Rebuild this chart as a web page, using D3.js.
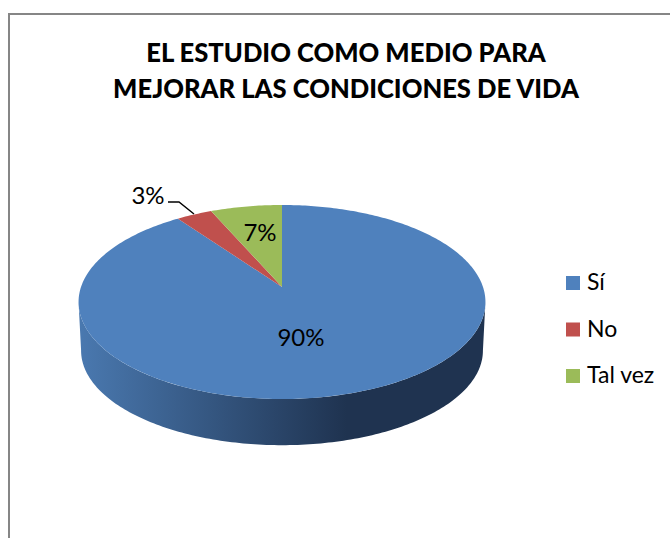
<!DOCTYPE html>
<html lang="en">
<head>
<meta charset="UTF-8">
<title>El estudio como medio</title>
<script src="https://d3js.org/d3.v7.min.js"></script>
<style>
    html, body { margin: 0; padding: 0; background: #fff; }
    svg { display: block; }
    text { font-family: Lato, "Open Sans", sans-serif; fill: #000; }
</style>
</head>
<body>
<script>
    // chart data
    var titleLines = ["EL ESTUDIO COMO MEDIO PARA", "MEJORAR LAS CONDICIONES DE VIDA"];
    var categories = ["Sí", "No", "Tal vez"];
    var values = [90.1, 3.3, 6.6];
    var colors = ["#4f81bd", "#c0504d", "#9bbb59"];

    var width = 670,
        height = 538;

    var svg = d3.select("body").append("svg")
        .attr("width", width)
        .attr("height", height);

    // frame of the chart, only top and left are inside the image
    svg.append("path")
        .attr("d", "M9,538V14H670")
        .attr("fill", "none")
        .attr("stroke", "#868686")
        .attr("stroke-width", 2);

    // title
    svg.append("g").selectAll("text")
        .data(titleLines)
        .enter()
        .append("text")
        .attr("x", 346)
        .attr("y", function (d, i) { return 62 + i * 36; })
        .attr("text-anchor", "middle")
        .attr("font-size", 25.6)
        .attr("font-weight", 900)
        .text(function (d) { return d; });

    // pie is a tilted disc, so project the unit circle with a little perspective
    var k = 0.1546;
    function project(angle, plane) {
        var X = Math.sin(angle),
            Y = Math.cos(angle),
            w = 1 + k * Y;
        return [plane.cx + plane.rx * X / w, plane.cy - plane.ry * Y / w];
    }
    var topPlane = { cx: 282, cy: 287, rx: 201, ry: 94.7 };
    var bottomPlane = { cx: 282, cy: 336, rx: 198.5, ry: 92.3 };

    var pie = d3.pie().sort(null).value(function (d) { return d; });
    var arcs = pie(values);

    function arcPoints(a0, a1, plane) {
        var n = Math.max(2, Math.ceil(Math.abs(a1 - a0) * 60));
        return d3.range(n + 1).map(function (i) {
            return project(a0 + (a1 - a0) * i / n, plane);
        });
    }
    var line = d3.line();

    // side wall: front half of the top rim, back along the bottom rim
    var rimLeft = 1.5 * Math.PI - Math.asin(k),
        rimRight = 0.5 * Math.PI + Math.asin(k);
    var grad = svg.append("defs").append("linearGradient")
        .attr("id", "side")
        .attr("gradientUnits", "userSpaceOnUse")
        .attr("x1", 78).attr("x2", 485)
        .attr("y1", 0).attr("y2", 0);
    grad.append("stop").attr("offset", 0).attr("stop-color", "#4a79b0");
    grad.append("stop").attr("offset", 0.66).attr("stop-color", "#1f3350");
    grad.append("stop").attr("offset", 1).attr("stop-color", "#1f3350");

    var sidePoints = arcPoints(rimRight, rimLeft, topPlane)
        .concat(arcPoints(rimLeft, rimRight, bottomPlane));
    svg.append("path")
        .attr("d", line(sidePoints) + "Z")
        .attr("fill", "url(#side)");

    // top face slices
    var apex = [topPlane.cx, topPlane.cy];
    svg.append("g").selectAll("path")
        .data(arcs)
        .enter()
        .append("path")
        .attr("d", function (d) {
            return line([apex].concat(arcPoints(d.startAngle, d.endAngle, topPlane))) + "Z";
        })
        .attr("fill", function (d, i) { return colors[i]; });

    // data labels
    var total = d3.sum(values);
    var pct = function (v) { return Math.round(v / total * 100) + "%"; };
    var labelPos = [[301, 346], [148, 204], [260, 241]];
    svg.append("g").selectAll("text")
        .data(values)
        .enter()
        .append("text")
        .attr("x", function (d, i) { return labelPos[i][0]; })
        .attr("y", function (d, i) { return labelPos[i][1]; })
        .attr("text-anchor", "middle")
        .attr("font-size", 24)
        .text(pct);

    // leader line for the small slice
    svg.append("path")
        .attr("d", "M168,202H179L194,214")
        .attr("fill", "none")
        .attr("stroke", "#000")
        .attr("stroke-width", 1.4);

    // legend
    var legend = svg.append("g").selectAll("g")
        .data(categories)
        .enter()
        .append("g")
        .attr("transform", function (d, i) { return "translate(566," + (276 + i * 46.5) + ")"; });
    legend.append("rect")
        .attr("width", 14)
        .attr("height", 14)
        .attr("fill", function (d, i) { return colors[i]; });
    legend.append("text")
        .attr("x", 21)
        .attr("y", 14)
        .attr("font-size", 23)
        .text(function (d) { return d; });
</script>
</body>
</html>
